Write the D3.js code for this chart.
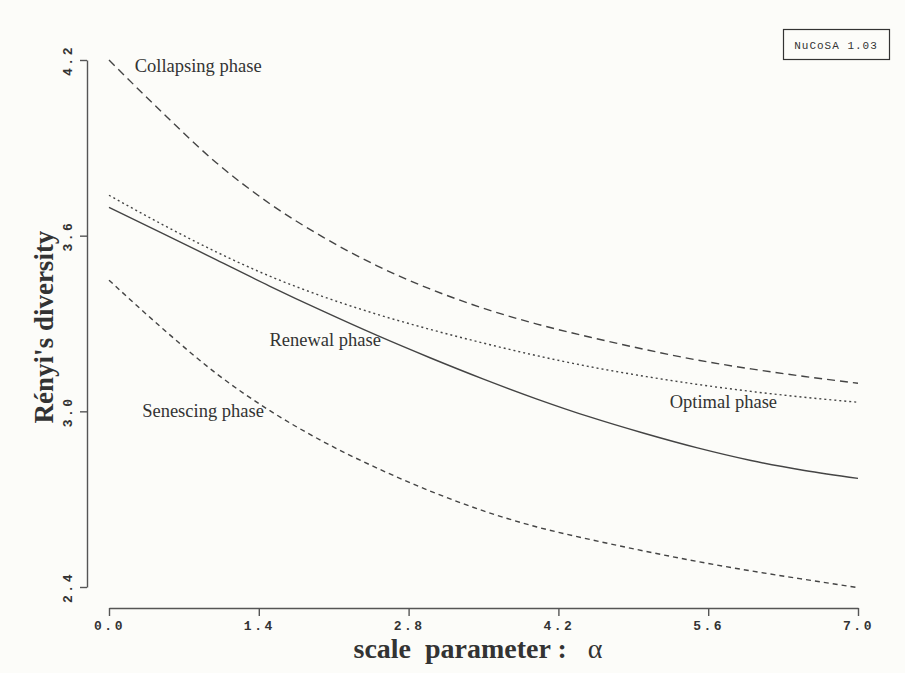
<!DOCTYPE html>
<html>
<head>
<meta charset="utf-8">
<script src="https://cdn.jsdelivr.net/npm/d3@7"></script>
<style>
    body { margin: 0; background: #fcfcf9; }
    svg { display: block; }
    .axis path, .axis line { stroke: #555; stroke-width: 1.4; }
    .axis text { font-family: "Liberation Mono", monospace; font-weight: bold; font-size: 13px; fill: #333; letter-spacing: 2.5px; }
    .phase { font-family: "Liberation Serif", serif; font-size: 18.5px; fill: #333; }
</style>
</head>
<body>
<svg id="chart" width="905" height="673"></svg>
<script>
// Chart data
const alpha = [0, 0.5, 1, 1.5, 2, 2.5, 3, 3.5, 4, 4.5, 5, 5.5, 6, 6.5, 7];
const collapsing = [4.20, 4.02, 3.85, 3.71, 3.595, 3.498, 3.418, 3.352, 3.298, 3.253, 3.212, 3.175, 3.145, 3.119, 3.096];
const optimal = [3.738, 3.638, 3.545, 3.462, 3.392, 3.332, 3.280, 3.233, 3.190, 3.152, 3.120, 3.092, 3.068, 3.048, 3.031];
const renewal = [3.697, 3.608, 3.518, 3.428, 3.342, 3.260, 3.183, 3.110, 3.042, 2.980, 2.925, 2.875, 2.832, 2.798, 2.771];
const senescing = [3.448, 3.283, 3.13, 3.003, 2.897, 2.807, 2.728, 2.660, 2.605, 2.562, 2.523, 2.487, 2.455, 2.426, 2.398];
const xTicks = [0, 1.4, 2.8, 4.2, 5.6, 7.0];
const yTicks = [2.4, 3.0, 3.6, 4.2];

const svg = d3.select("#chart");

let x = d3.scaleLinear().domain([0, 7]).range([109, 858]);
let y = d3.scaleLinear().domain([2.4, 4.2]).range([587, 60]);

// Axes, detached like the original plot
function drawAxes() {
    let xAxis = svg.append("g")
                   .attr("class", "axis")
                   .attr("transform", "translate(0,608)")
                   .call(d3.axisBottom(x).tickValues(xTicks).tickFormat(d3.format(".1f"))
                          .tickSize(8).tickSizeOuter(0));
    xAxis.selectAll("text").attr("y", 13).attr("dy", "0.71em");

    let yAxis = svg.append("g")
                   .attr("class", "axis")
                   .attr("transform", "translate(87,0)")
                   .call(d3.axisLeft(y).tickValues(yTicks).tickFormat(d3.format(".1f"))
                          .tickSize(7).tickSizeOuter(0));
    yAxis.selectAll("text")
         .attr("x", 0).attr("dy", 0)
         .attr("text-anchor", "middle")
         .attr("transform", "translate(-15,0) rotate(-90)");

    svg.append("text")
       .attr("x", 478).attr("y", 658)
       .attr("text-anchor", "middle")
       .attr("xml:space", "preserve")
       .style("font-family", "Liberation Serif, serif")
       .style("font-size", "28px")
       .style("font-weight", "bold")
       .style("fill", "#333")
       .call(t => {
           t.append("tspan").text("scale  parameter :   ");
           t.append("tspan").style("font-weight", "normal").text("\u03b1");
       });

    svg.append("text")
       .attr("transform", "translate(53,327) rotate(-90)")
       .attr("text-anchor", "middle")
       .style("font-family", "Liberation Serif, serif")
       .style("font-size", "27px")
       .style("font-weight", "bold")
       .style("fill", "#333")
       .text("R\u00e9nyi's diversity");
}

// Curves for the four phases
function drawLines() {
    let series = [
        { values: collapsing, dash: "8,5" },
        { values: optimal, dash: "2,3" },
        { values: renewal, dash: null },
        { values: senescing, dash: "5,4" }
    ];
    let line = d3.line()
                 .x((d, i) => x(alpha[i]))
                 .y(d => y(d))
                 .curve(d3.curveMonotoneX);

    svg.selectAll("path.curve")
       .data(series)
       .enter()
       .append("path")
       .attr("class", "curve")
       .attr("d", d => line(d.values))
       .attr("fill", "none")
       .attr("stroke", "#444")
       .attr("stroke-width", 1.4)
       .attr("stroke-dasharray", d => d.dash);
}

// Phase labels and the version box
function drawLabels() {
    let labels = [
        { text: "Collapsing phase", a: 0.24, v: 4.158 },
        { text: "Renewal phase", a: 1.5, v: 3.222 },
        { text: "Senescing phase", a: 0.31, v: 2.982 },
        { text: "Optimal phase", a: 5.24, v: 3.01 }
    ];
    svg.selectAll("text.phase")
       .data(labels)
       .enter()
       .append("text")
       .attr("class", "phase")
       .attr("x", d => x(d.a))
       .attr("y", d => y(d.v))
       .text(d => d.text);

    svg.append("rect")
       .attr("x", 783.5).attr("y", 29.5)
       .attr("width", 106).attr("height", 30)
       .attr("fill", "none")
       .attr("stroke", "#333")
       .attr("stroke-width", 1.2);
    svg.append("text")
       .attr("x", 836).attr("y", 49)
       .attr("text-anchor", "middle")
       .style("font-family", "Liberation Mono, monospace")
       .style("font-size", "11px")
       .style("letter-spacing", "1px")
       .style("fill", "#333")
       .text("NuCoSA 1.03");
}

drawAxes();
drawLines();
drawLabels();
</script>
</body>
</html>
